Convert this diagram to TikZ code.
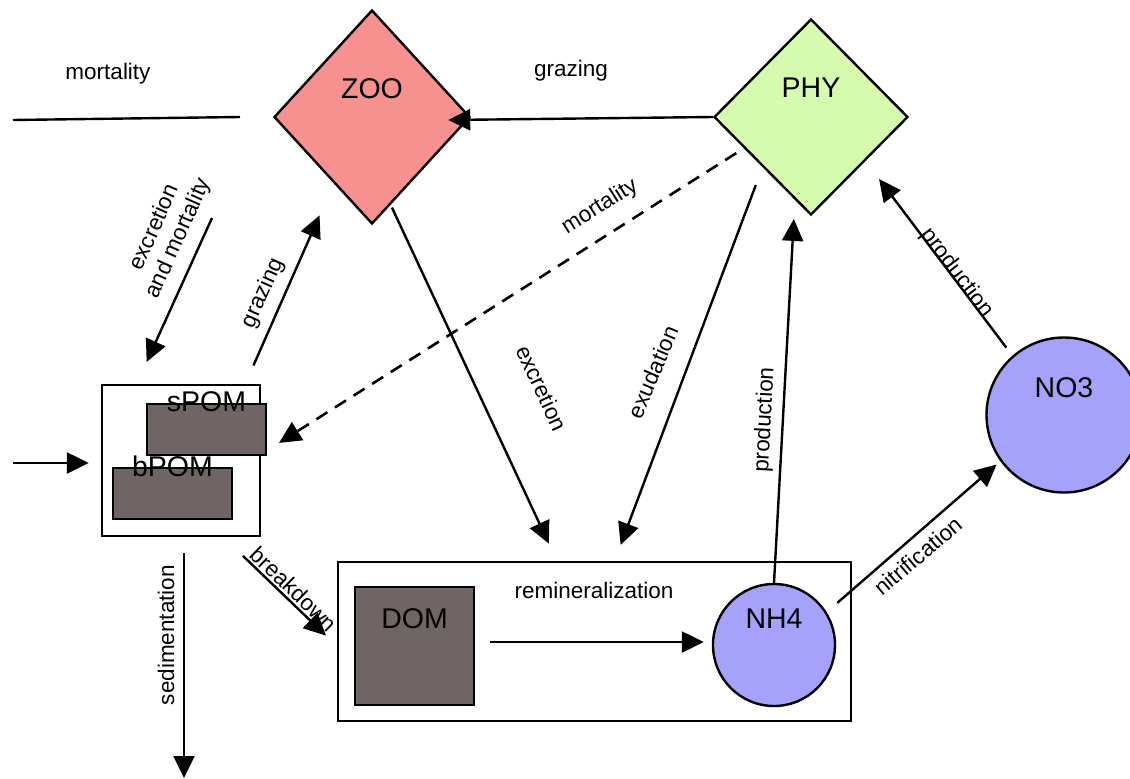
\documentclass[tikz,border=0pt]{standalone}
\usepackage{fontspec}
\setmainfont{Liberation Sans}
\usetikzlibrary{shapes.geometric,arrows.meta,calc}
\definecolor{zoofill}{HTML}{F79190}
\definecolor{phyfill}{HTML}{D5FBAE}
\definecolor{nutfill}{HTML}{A6A1FB}
\definecolor{omfill}{HTML}{6F6564}
\begin{document}
\begin{tikzpicture}[x=1pt,y=-1pt,
  every node/.style={font=\fontsize{22.5}{26}\selectfont},
  big/.style={font=\fontsize{28.5}{32}\selectfont},
  conn/.style={line width=2.4pt, -{Triangle[length=22pt,width=21pt]}},
  plainline/.style={line width=2.4pt},
  dashedconn/.style={conn, line width=2.6pt, dash pattern=on 13pt off 9pt},
  boxnode/.style={draw, line width=2.4pt, rectangle, inner sep=0pt},
  omnode/.style={boxnode, fill=omfill},
  diam/.style={draw, line width=2.4pt, diamond, inner sep=0pt},
  nutnode/.style={draw, line width=2.4pt, circle, inner sep=0pt, fill=nutfill}
]
\useasboundingbox (0,0) rectangle (1130,779);

% nodes
\node[diam, fill=zoofill, minimum width=196pt, minimum height=214pt,
      label={[big,yshift=28pt]center:ZOO}] (zoo) at (372,117) {};
\node[diam, fill=phyfill, minimum width=194pt, minimum height=196pt,
      label={[big,yshift=29pt]center:PHY}] (phy) at (811,117) {};
\node[boxnode, minimum width=158pt, minimum height=151pt] (pomBox) at (181,460.5) {};
\node[omnode, minimum width=119pt, minimum height=51pt,
      label={[big,yshift=27.5pt]center:sPOM}] (spom) at (206.5,429.5) {};
\node[omnode, minimum width=119pt, minimum height=51pt,
      label={[big,yshift=27.5pt]center:bPOM}] (bpom) at (172.5,493.5) {};
\node[boxnode, minimum width=513pt, minimum height=159pt] (remin) at (594.5,641.5) {};
\node[omnode, minimum width=119pt, minimum height=118pt,
      label={[big,yshift=27pt]center:DOM}] (dom) at (414.5,646) {};
\node[nutnode, minimum size=122pt,
      label={[big,yshift=26pt]center:NH4}] (nh4) at (774,645) {};
\node[nutnode, minimum size=155pt,
      label={[big,yshift=27pt]center:NO3}] (no3) at (1064,415) {};
\node (lblRemin) at (594,590) {remineralization};

% connectors
\coordinate (mortL) at (13,120);
\coordinate (mortR) at (240,117);
\draw[plainline] (mortL) -- (mortR);
\draw[conn] (phy.west) -- ([xshift=-23pt,yshift=-3pt]zoo.east);
\draw[conn, shorten <=3pt, shorten >=19pt] (zoo.-78.5) -- (remin.115.8);
\draw[conn, shorten <=19pt, shorten >=17pt] (phy.226.7) -- (remin.76.3);
\draw[dashedconn, shorten <=9pt, shorten >=14pt] (phy.205.2) -- (spom.-19.5);
\coordinate (emStart) at (212,218);
\draw[conn, shorten >=24pt] (emStart) -- (pomBox.120.2);
\draw[conn, shorten <=20pt, shorten >=35pt] (pomBox.50.2) -- (zoo.240.3);
\coordinate (inStart) at (13,463);
\draw[conn, shorten >=12pt] (inStart) -- (inStart -| pomBox.west);
\coordinate (sedEnd) at (184,778);
\draw[conn, shorten <=16pt] (pomBox.south -| sedEnd) -- (sedEnd);
\draw[conn, shorten <=27pt, shorten >=15pt] (pomBox.-61.2) -- (remin.181.6);
\draw[conn, shorten <=15pt, shorten >=8pt] ([yshift=4pt]dom.east) -- ([yshift=3pt]nh4.west);
\draw[conn, shorten >=19pt] (nh4.north) -- (phy.259.8);
\draw[conn, shorten <=14pt, shorten >=5pt] (nh4.32.7) -- (no3.216.9);
\draw[conn, shorten <=10pt, shorten >=22.5pt] (no3.131.3) -- (phy.-39.6);

% labels
\node (lblMortT) at (108,74) {mortality};
\node (lblGrazeT) at (571,71) {grazing};
\node[rotate=65.9, align=center] (lblExMort) at (167,233) {excretion\\and mortality};
\node[rotate=66] (lblGrazeL) at (263,293) {grazing};
\node[rotate=32.3] (lblMortD) at (600,207) {mortality};
\node[rotate=-65] (lblExcr) at (542,388) {excretion};
\node[rotate=67] (lblExud) at (653,372) {exudation};
\node[rotate=87] (lblProd1) at (765,420) {production};
\node[rotate=-52.8] (lblProd2) at (957,273) {production};
\node[rotate=40.4] (lblNitr) at (918,556) {nitrification};
\node[rotate=-44.3] (lblBreak) at (294,589) {breakdown};
\node[rotate=90] (lblSed) at (166,635) {sedimentation};
\end{tikzpicture}
\end{document}
